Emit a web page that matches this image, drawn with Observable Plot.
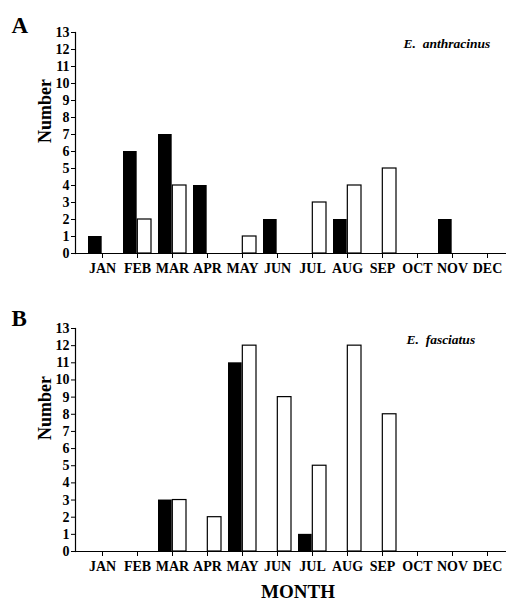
<!DOCTYPE html>
<html><head><meta charset="utf-8">
<script src="https://cdn.jsdelivr.net/npm/d3@7"></script>
<script src="https://cdn.jsdelivr.net/npm/@observablehq/plot@0.6"></script>
<style>body{margin:0;background:#fff} #chart svg{display:block}</style>
</head><body><div id="chart"></div>
<script>
const months = ["JAN","FEB","MAR","APR","MAY","JUN","JUL","AUG","SEP","OCT","NOV","DEC"];
const anthracinusBlack = [1,6,7,4,0,2,0,2,0,0,2,0];
const anthracinusWhite = [0,2,4,0,1,0,3,4,5,0,0,0];
const fasciatusBlack = [0,0,3,0,11,0,1,0,0,0,0,0];
const fasciatusWhite = [0,0,3,2,12,9,5,12,8,0,0,0];
const yTicks = d3.range(0, 14);
const font = "'Liberation Serif', 'Times New Roman', serif";

function panel({letter, species, black, white, height, marginTop, marginBottom, letterDy, speciesDx, showMonth}) {
  const rows = months.flatMap((m, i) => [
    {month: m, kind: "black", value: black[i]},
    {month: m, kind: "white", value: white[i]}
  ]).filter(d => d.value > 0);
  const xRange = [79.2, 508.8];
  const step = (xRange[1] - xRange[0]) / 12;
  const half = step * 0.8 / 2;
  const marks = [
    Plot.barY(rows.filter(d => d.kind === "black"), {x: "month", y: "value", fill: "#000", insetRight: half}),
    Plot.barY(rows.filter(d => d.kind === "white"), {x: "month", y: "value", fill: "#fff", stroke: "#000", strokeWidth: 1.2, insetLeft: half}),
    Plot.ruleY([0], {stroke: "#000", strokeWidth: 1.2}),
    Plot.frame({anchor: "left", stroke: "#000", strokeWidth: 1.2}),
    Plot.axisY({ticks: yTicks, tickSize: 4, tickPadding: 2, fontSize: 14, fontWeight: "bold", letterSpacing: "0.5px", label: null}),
    Plot.axisX({tickSize: 5, tickPadding: 5, fontSize: 14, fontWeight: "bold", letterSpacing: "0.5px", label: null}),
    Plot.text([letter], {frameAnchor: "top-left", dx: -64, dy: letterDy, textAnchor: "start", lineAnchor: "bottom", fontSize: 23, fontWeight: "bold"}),
    Plot.text([species], {frameAnchor: "top-left", dx: speciesDx, dy: 15, textAnchor: "start", lineAnchor: "bottom", fontSize: 13.5, fontWeight: "bold", fontStyle: "italic", letterSpacing: "1px"}),
    Plot.text(["Number"], {frameAnchor: "left", dx: -30, rotate: -90, lineAnchor: "middle", fontSize: 18, fontWeight: "bold"})
  ];
  if (showMonth) {
    marks.push(Plot.text(["MONTH"], {frameAnchor: "bottom", dx: 7, dy: 40, lineAnchor: "middle", fontSize: 19, fontWeight: "bold"}));
  }
  return Plot.plot({
    width: 506, height, marginLeft: 75, marginRight: 0, marginTop, marginBottom,
    style: {fontFamily: font, fontWeight: "bold", fontSize: "14px", color: "#000", background: "#fff", overflow: "visible"},
    x: {type: "band", domain: months, range: xRange, paddingInner: 0.2, paddingOuter: 0.1},
    y: {domain: [0, 13]},
    marks
  });
}

const chart = document.getElementById("chart");
chart.append(panel({letter: "A", species: "E.  anthracinus", black: anthracinusBlack, white: anthracinusWhite,
  height: 290, marginTop: 32, marginBottom: 37, letterDy: 0, speciesDx: 328, showMonth: false}));
chart.append(panel({letter: "B", species: "E.  fasciatus", black: fasciatusBlack, white: fasciatusWhite,
  height: 313, marginTop: 38, marginBottom: 52, letterDy: -3, speciesDx: 331, showMonth: true}));
</script>
</body></html>
